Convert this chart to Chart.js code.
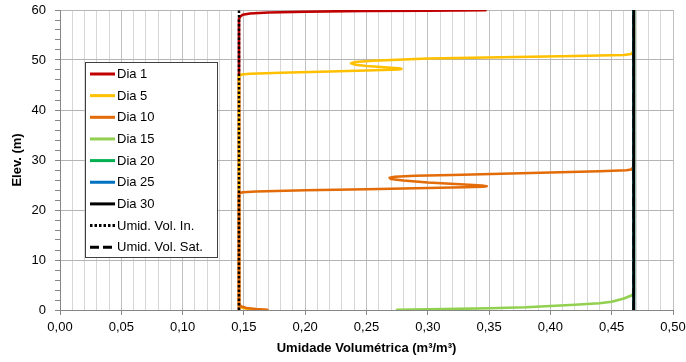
<!DOCTYPE html>
<html>
<head>
<meta charset="utf-8">
<script src="https://cdn.jsdelivr.net/npm/chart.js@4/dist/chart.umd.min.js"></script>
<style>
  body { margin: 0; background: #fff; }
  #wrap { width: 686px; height: 362px; position: relative; }
</style>
</head>
<body>
<div id="wrap"><canvas id="myChart"></canvas></div>
<script>
// perfis de umidade (x = umidade volumetrica, y = elevacao em m)
const dia1X = [0.146, 0.146, 0.147, 0.149, 0.155, 0.170, 0.200, 0.250, 0.300, 0.347];
const dia1Y = [0, 58.2, 58.7, 59.05, 59.3, 59.5, 59.65, 59.8, 59.88, 59.95];

const dia5X = [0.155, 0.148, 0.146, 0.146, 0.148, 0.155, 0.180, 0.220, 0.250, 0.270, 0.276, 0.2785, 0.276, 0.265, 0.250, 0.241, 0.2375, 0.241, 0.255, 0.280, 0.300, 0.360, 0.420, 0.460, 0.466, 0.468, 0.468];
const dia5Y = [0.1, 0.5, 0.8, 46.8, 47.1, 47.25, 47.45, 47.7, 47.9, 48.05, 48.12, 48.22, 48.35, 48.55, 48.8, 49.05, 49.35, 49.6, 49.85, 50.1, 50.3, 50.55, 50.8, 51.0, 51.2, 51.8, 60];

const dia10X = [0.169, 0.160, 0.152, 0.148, 0.146, 0.146, 0.149, 0.160, 0.200, 0.250, 0.300, 0.330, 0.345, 0.348, 0.344, 0.330, 0.300, 0.280, 0.270, 0.269, 0.273, 0.290, 0.320, 0.360, 0.400, 0.440, 0.462, 0.466, 0.468, 0.468];
const dia10Y = [0.05, 0.2, 0.4, 0.7, 1.0, 23.3, 23.55, 23.7, 23.95, 24.15, 24.4, 24.55, 24.65, 24.75, 24.9, 25.1, 25.5, 25.9, 26.2, 26.45, 26.65, 26.85, 27.0, 27.25, 27.5, 27.75, 27.95, 28.1, 28.6, 60];

const dia15X = [0.275, 0.300, 0.350, 0.380, 0.400, 0.420, 0.440, 0.450, 0.460, 0.466, 0.468, 0.468];
const dia15Y = [0.05, 0.15, 0.35, 0.55, 0.8, 1.05, 1.35, 1.65, 2.3, 2.9, 3.2, 60];

const dia20X = [0.468, 0.468];
const dia20Y = [0, 60];
const dia25X = [0.468, 0.468];
const dia25Y = [0, 60];
const dia30X = [0.468, 0.468];
const dia30Y = [0, 60];

const umidInX = [0.146, 0.146];
const umidInY = [0, 60];
const umidSatX = [0.468, 0.468];
const umidSatY = [0, 60];

const labels = ['Dia 1', 'Dia 5', 'Dia 10', 'Dia 15', 'Dia 20', 'Dia 25', 'Dia 30', 'Umid. Vol. In.', 'Umid. Vol. Sat.'];
const colors = ['#C00000', '#FFC000', '#E36C09', '#92D050', '#00B050', '#0070C0', '#000000', '#000000', '#000000'];
const xTickStep = 0.01;
const yTickStep = 2;

function pts(xs, ys) {
    return xs.map((x, i) => ({ x: x, y: ys[i] }));
}

const series = [
    pts(dia1X, dia1Y), pts(dia5X, dia5Y), pts(dia10X, dia10Y), pts(dia15X, dia15Y),
    pts(dia20X, dia20Y), pts(dia25X, dia25Y), pts(dia30X, dia30Y),
    pts(umidInX, umidInY), pts(umidSatX, umidSatY)
];

const dashes = [[], [], [], [], [], [], [], [2.5, 2], [9, 4]];

let datasets = series.map((d, i) => ({
    label: labels[i],
    data: d,
    showLine: true,
    pointRadius: 0,
    borderColor: colors[i],
    backgroundColor: colors[i],
    borderWidth: i >= 7 ? 2.5 : 2.75,
    borderDash: dashes[i],
    borderJoinStyle: 'round',
    borderCapStyle: i >= 7 ? 'butt' : 'round',
    tension: 0,
    order: series.length - i   // ultima serie por cima, como no Excel
}));

// legenda desenhada dentro da area do grafico
const legendBox = {
    id: 'legendBox',
    afterDraw(chart) {
        const ctx = chart.ctx;
        ctx.save();
        ctx.fillStyle = '#ffffff';
        ctx.fillRect(85.5, 62.5, 132, 195);
        ctx.strokeStyle = '#404040';
        ctx.lineWidth = 1;
        ctx.strokeRect(85.5, 62.5, 132, 195);
        chart.data.datasets.forEach((ds, i) => {
            const y = 74 + i * 21.65;
            ctx.beginPath();
            ctx.strokeStyle = ds.borderColor;
            ctx.lineWidth = 3;
            ctx.setLineDash(ds.borderDash || []);
            ctx.moveTo(90, y);
            ctx.lineTo(115, y);
            ctx.stroke();
            ctx.setLineDash([]);
            ctx.fillStyle = '#000';
            ctx.font = '13px "Liberation Sans", Arial, sans-serif';
            ctx.textBaseline = 'middle';
            ctx.fillText(ds.label, 117, y + 0.5);
        });
        ctx.restore();
    }
};

const isMajorX = v => Math.round(v * 100) % 5 === 0;
const isMajorY = v => Math.round(v) % 10 === 0;

var ctx = document.getElementById('myChart');
new Chart(ctx, {
    type: 'scatter',
    data: { datasets: datasets },
    plugins: [legendBox],
    options: {
        responsive: true,
        maintainAspectRatio: false,
        animation: false,
        layout: { padding: { top: 10, right: 13, left: 0, bottom: 0 } },
        plugins: {
            legend: { display: false },
            tooltip: { enabled: false }
        },
        scales: {
            x: {
                type: 'linear',
                min: 0,
                max: 0.5,
                afterFit: s => { s.height = 52; s.paddingLeft = 0; s.paddingRight = 0; },
                border: { color: '#868686', width: 1 },
                grid: {
                    color: c => isMajorX(c.tick.value) ? '#bfbfbf' : '#d6d6d6',
                    tickColor: c => isMajorX(c.tick.value) ? '#868686' : 'rgba(0,0,0,0)',
                    tickLength: 5
                },
                ticks: {
                    stepSize: xTickStep,
                    autoSkip: false,
                    maxRotation: 0,
                    maxTicksLimit: 100,
                    padding: 5,
                    color: '#000',
                    font: { family: '"Liberation Sans", Arial, sans-serif', size: 13 },
                    callback: v => isMajorX(v) ? v.toFixed(2).replace('.', ',') : ''
                },
                title: {
                    display: true,
                    text: 'Umidade Volumétrica (m³/m³)',
                    color: '#000',
                    font: { family: '"Liberation Sans", Arial, sans-serif', size: 13, weight: 'bold' },
                    padding: { top: 0, bottom: 6 }
                }
            },
            y: {
                type: 'linear',
                min: 0,
                max: 60,
                afterFit: s => { s.width = 60; s.paddingTop = 0; s.paddingBottom = 0; },
                border: { color: '#868686', width: 1 },
                grid: {
                    color: c => isMajorY(c.tick.value) ? '#b4b4b4' : 'rgba(0,0,0,0)',
                    tickColor: '#868686',
                    tickLength: 5
                },
                ticks: {
                    stepSize: yTickStep,
                    autoSkip: false,
                    maxTicksLimit: 100,
                    padding: 9,
                    color: '#000',
                    font: { family: '"Liberation Sans", Arial, sans-serif', size: 13 },
                    callback: v => isMajorY(v) ? String(Math.round(v)) : ''
                },
                title: {
                    display: true,
                    text: 'Elev. (m)',
                    color: '#000',
                    font: { family: '"Liberation Sans", Arial, sans-serif', size: 13, weight: 'bold' },
                    padding: { top: 10, bottom: 0 }
                }
            }
        }
    }
});
</script>
</body>
</html>
